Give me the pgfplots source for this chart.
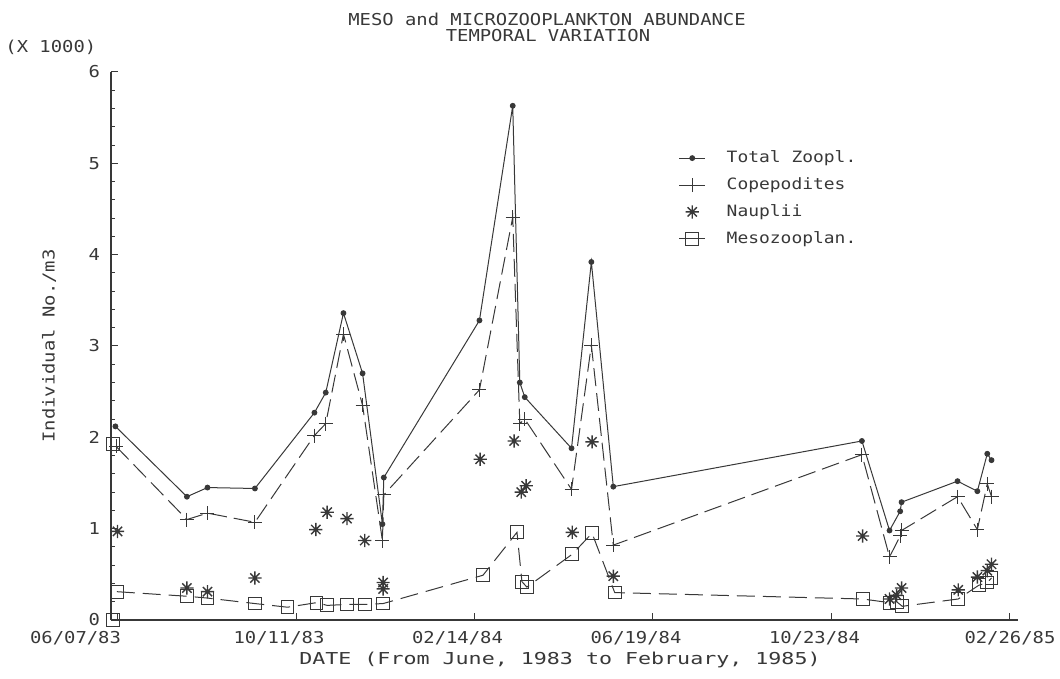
\documentclass[border=0pt]{standalone}
\usepackage{fontspec}
\setmainfont{DejaVu Sans Mono}[FakeStretch=1.15]
\newfontfamily\widefont{DejaVu Sans Mono}[FakeStretch=1.32]
\usepackage{pgfplots}
\pgfplotsset{compat=1.18}
\newcommand\pf{\fontsize{8.2}{10}\selectfont}
\newcommand\lf{\fontsize{7.8}{10}\selectfont}
\definecolor{ink}{gray}{0.22}
\pgfdeclareplotmark{star8}{%
  \pgfpathmoveto{\pgfpoint{-\pgfplotmarksize}{0pt}}\pgfpathlineto{\pgfpoint{\pgfplotmarksize}{0pt}}%
  \pgfpathmoveto{\pgfpoint{0pt}{-\pgfplotmarksize}}\pgfpathlineto{\pgfpoint{0pt}{\pgfplotmarksize}}%
  \pgfpathmoveto{\pgfpoint{-0.707\pgfplotmarksize}{-0.707\pgfplotmarksize}}\pgfpathlineto{\pgfpoint{0.707\pgfplotmarksize}{0.707\pgfplotmarksize}}%
  \pgfpathmoveto{\pgfpoint{-0.707\pgfplotmarksize}{0.707\pgfplotmarksize}}\pgfpathlineto{\pgfpoint{0.707\pgfplotmarksize}{-0.707\pgfplotmarksize}}%
  \pgfusepathqstroke}

\pgfplotstableread{
x y
-1.5 2.12
49 1.35
63.5 1.45
97 1.44
139 2.27
147 2.49
159.5 3.36
173 2.70
187 1.05
188 1.56
255.5 3.28
279 5.63
284 2.60
287.5 2.44
320.5 1.88
334.5 3.92
350 1.46
525.5 1.96
545 0.98
552.5 1.19
553.5 1.29
593 1.52
607 1.41
614 1.82
617 1.75
}\total
\pgfplotstableread{
x y
-1 1.90
49 1.10
63.5 1.17
97 1.07
139 2.02
147 2.15
159.5 3.13
173 2.35
187 0.87
188 1.37
255.5 2.52
279 4.41
284 2.15
287.5 2.20
320.5 1.43
334.5 3.01
350 0.82
525.5 1.81
545 0.69
552.5 0.92
553.5 0.98
593 1.35
607 0.99
614 1.49
617 1.35
}\cope
\pgfplotstableread{
x y
0 0.97
49 0.35
63.5 0.31
97 0.46
140 0.99
148 1.18
162 1.11
174.5 0.87
187.5 0.41
187.5 0.34
256 1.76
280 1.96
285 1.40
288.5 1.47
321 0.96
335 1.95
350 0.48
526 0.92
545 0.23
550 0.27
553.5 0.35
593.5 0.33
607 0.47
614 0.54
617 0.61
}\naup
\pgfplotstableread{
x y
-0.5 0.31
49 0.26
63.5 0.24
97 0.18
120 0.14
140.5 0.19
148 0.16
162 0.17
174.5 0.17
187.5 0.18
258 0.49
282 0.96
285.5 0.42
289 0.36
321 0.72
335 0.95
351 0.30
526 0.23
545 0.19
550 0.20
554 0.15
593.5 0.23
608 0.38
614 0.41
617 0.46
}\meso
\pgfplotstableread{
x y
-3.5 1.93
-3.5 0.0
}\stray

\begin{document}
\begin{tikzpicture}
\useasboundingbox (0,0) rectangle (530pt,339.5pt);
\node[font=\pf, text=ink, inner sep=0pt] at (273.5pt,330pt) {MESO and MICROZOOPLANKTON ABUNDANCE};
\node[font=\pf, text=ink, inner sep=0pt] at (274pt,321.5pt) {TEMPORAL VARIATION};
\node[font=\pf, text=ink, anchor=west, inner sep=0pt] at (2.5pt,316pt) {(X 1000)};
\begin{axis}[
  at={(55.5pt,29.5pt)}, anchor=south west,
  scale only axis, width=453.5pt, height=274pt,
  xmin=-4.6, xmax=635.7, ymin=0, ymax=6,
  axis lines=left, axis line style={-, ink, line width=0.6pt},
  tick align=inside,
  every tick/.style={ink, line width=0.5pt},
  major tick length=3.5pt, minor tick length=2.2pt,
  xtick={126,252,378,504,630},
  xticklabels={10/11/83\hspace*{17pt}, 02/14/84\hspace*{17pt}, 06/19/84\hspace*{17pt}, 10/23/84\hspace*{17pt}, 02/26/85},
  extra x ticks={0},
  extra x tick labels={06/07/83},
  extra x tick style={xticklabel style={xshift=-21pt}},
  ytick={0,1,2,3,4,5,6}, minor y tick num=4,
  /pgf/number format/assume math mode=true,
  tick label style={font=\pf, text=ink},
  xticklabel style={yshift=-2.3pt},
  yticklabel style={xshift=-2pt},
  xlabel={DATE (From June, 1983 to February, 1985)},
  ylabel={Individual No./m3},
  label style={font=\pf, text=ink},
  xlabel style={font=\widefont\fontsize{8.2}{10}\selectfont, at={(0.495,0)}, anchor=center, yshift=-20pt},
  ylabel style={at={(0,0.5)}, anchor=center, yshift=31pt},
  legend style={at={(0.6255,0.8645)}, anchor=north west, draw=none, fill=none, font=\lf, text=ink, row sep=2pt, inner sep=0pt},
  legend cell align=left,
]
\addplot[ink, line width=0.5pt, mark=*, mark size=1.2pt, mark options={solid, fill=ink},
  legend image code/.code={\draw[ink,solid,line width=0.5pt] (0pt,0pt) -- (13pt,0pt); \fill[ink] (6.5pt,0pt) circle (1.2pt);}]
  table[x=x,y=y] {\total};
\addlegendentry{\hspace*{8.5pt}Total Zoopl.}
\addplot[ink, line width=0.5pt, dash pattern=on 9pt off 3.5pt, mark=+, mark size=3.5pt, mark options={solid},
  legend image code/.code={\draw[ink,solid,line width=0.5pt] (0pt,0pt) -- (13pt,0pt); \draw[ink,solid,line width=0.5pt] (6.5pt,-3.5pt) -- (6.5pt,3.5pt);}]
  table[x=x,y=y] {\cope};
\addlegendentry{\hspace*{8.5pt}Copepodites}
\addplot[ink, only marks, mark=star8, mark size=3.3pt, mark options={line width=0.7pt},
  legend image code/.code={\draw[ink,line width=0.7pt] (3.2pt,0pt) -- (9.8pt,0pt) (6.5pt,-3.3pt) -- (6.5pt,3.3pt) (4.2pt,-2.3pt) -- (8.8pt,2.3pt) (4.2pt,2.3pt) -- (8.8pt,-2.3pt);}]
  table[x=x,y=y] {\naup};
\addlegendentry{\hspace*{8.5pt}Nauplii}
\addplot[ink, line width=0.5pt, dash pattern=on 9pt off 4pt, mark=square, mark size=3.2pt, mark options={solid},
  legend image code/.code={\draw[ink,solid,line width=0.5pt] (0pt,0pt) -- (13pt,0pt); \draw[ink,solid,line width=0.5pt] (3.3pt,-3.2pt) rectangle (9.7pt,3.2pt);}]
  table[x=x,y=y] {\meso};
\addlegendentry{\hspace*{8.5pt}Mesozooplan.}
\addplot[ink, only marks, mark=square, mark size=3.2pt, forget plot] table[x=x,y=y] {\stray};
\end{axis}
\end{tikzpicture}
\end{document}
